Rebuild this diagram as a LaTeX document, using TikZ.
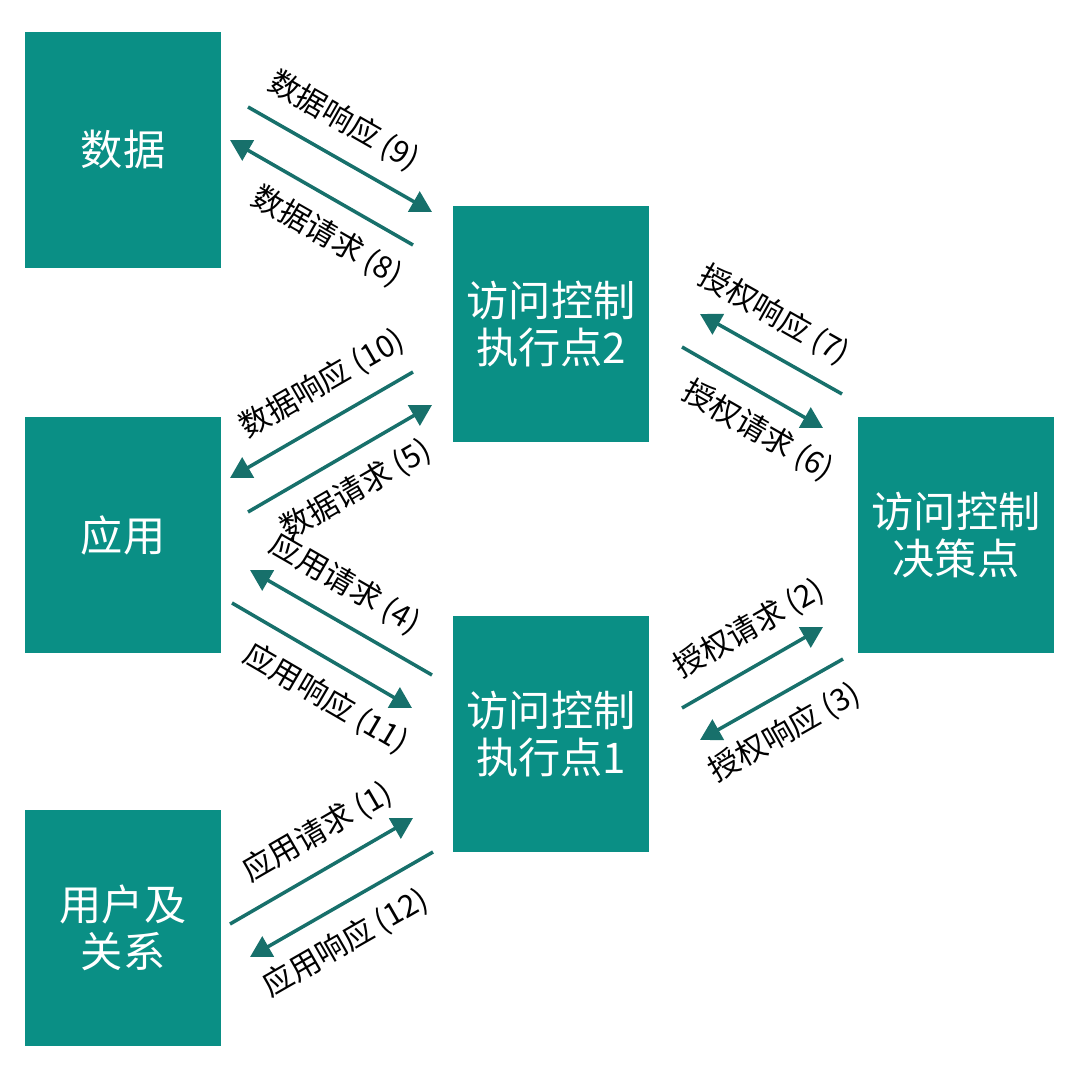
\documentclass[tikz,border=0pt]{standalone}
\usepackage{fontspec}
\setmainfont{Noto Sans CJK SC}
\usetikzlibrary{arrows.meta}
\definecolor{boxteal}{RGB}{10,143,133}
\definecolor{arrowteal}{RGB}{23,112,107}
\begin{document}
\begin{tikzpicture}[x=0.01cm, y=-0.01cm, line join=round,
	box/.style={fill=boxteal, text=white, minimum width=1.96cm, minimum height=2.36cm, inner sep=0pt, align=center, font=\fontsize{12}{13.4}\selectfont},
	flow/.style={draw=arrowteal, line width=1pt, -{Triangle[length=0.21cm,width=0.23cm]}},
	lbl/.style={font=\fontsize{8.7}{10}\selectfont, sloped, inner sep=1pt}]
		\useasboundingbox (0,0) rectangle (1080,1080);
		% boxes
		\node[box] (data) at (123,150) {数据};
		\node[box] (app) at (123,535) {应用};
		\node[box] (user) at (123,928) {用户及\\关系};
		\node[box] (pep2) at (551,324) {访问控制\\执行点2};
		\node[box] (pep1) at (551,734) {访问控制\\执行点1};
		\node[box] (pdp) at (956,535) {访问控制\\决策点};
		% arrow ends
		\coordinate (a9s) at (248,107);  \coordinate (a9e) at (432,212);
		\coordinate (a8s) at (413,245);  \coordinate (a8e) at (230,140);
		\coordinate (a7s) at (842,394);  \coordinate (a7e) at (700,314);
		\coordinate (a6s) at (682,347);  \coordinate (a6e) at (823,428);
		\coordinate (a10s) at (413,372); \coordinate (a10e) at (230,478);
		\coordinate (a5s) at (248,512);  \coordinate (a5e) at (432,405);
		\coordinate (a4s) at (432,675);  \coordinate (a4e) at (250,570);
		\coordinate (a11s) at (232,603); \coordinate (a11e) at (412,708);
		\coordinate (a2s) at (682,708);  \coordinate (a2e) at (823,627);
		\coordinate (a3s) at (843,659);  \coordinate (a3e) at (700,740);
		\coordinate (a1s) at (230,924);  \coordinate (a1e) at (413,818);
		\coordinate (a12s) at (433,852); \coordinate (a12e) at (250,957);
		% data
		\draw[flow] (a9s) -- node[lbl, pos=0.425, above=4pt] {数据响应 (9)} (a9e);
		\draw[flow] (a8s) -- node[lbl, pos=0.375, below=4pt] {数据请求 (8)} (a8e);
		% authorisation, upper
		\draw[flow] (a7s) -- node[lbl, pos=0.6, above=4pt] {授权响应 (7)} (a7e);
		\draw[flow] (a6s) -- node[lbl, pos=0.66, below=4pt] {授权请求 (6)} (a6e);
		% data via app
		\draw[flow] (a10s) -- node[lbl, pos=0.4, above=4pt] {数据响应 (10)} (a10e);
		\draw[flow] (a5s) -- node[lbl, pos=0.49, below=4pt] {数据请求 (5)} (a5e);
		% app
		\draw[flow] (a4s) -- node[lbl, pos=0.575, above=4pt] {应用请求 (4)} (a4e);
		\draw[flow] (a11s) -- node[lbl, pos=0.62, below=4pt] {应用响应 (11)} (a11e);
		% authorisation, lower
		\draw[flow] (a2s) -- node[lbl, pos=0.6, above=4pt] {授权请求 (2)} (a2e);
		\draw[flow] (a3s) -- node[lbl, pos=0.53, below=4pt] {授权响应 (3)} (a3e);
		% user
		\draw[flow] (a1s) -- node[lbl, pos=0.575, above=4pt] {应用请求 (1)} (a1e);
		\draw[flow] (a12s) -- node[lbl, pos=0.575, below=4pt] {应用响应 (12)} (a12e);
\end{tikzpicture}
\end{document}
